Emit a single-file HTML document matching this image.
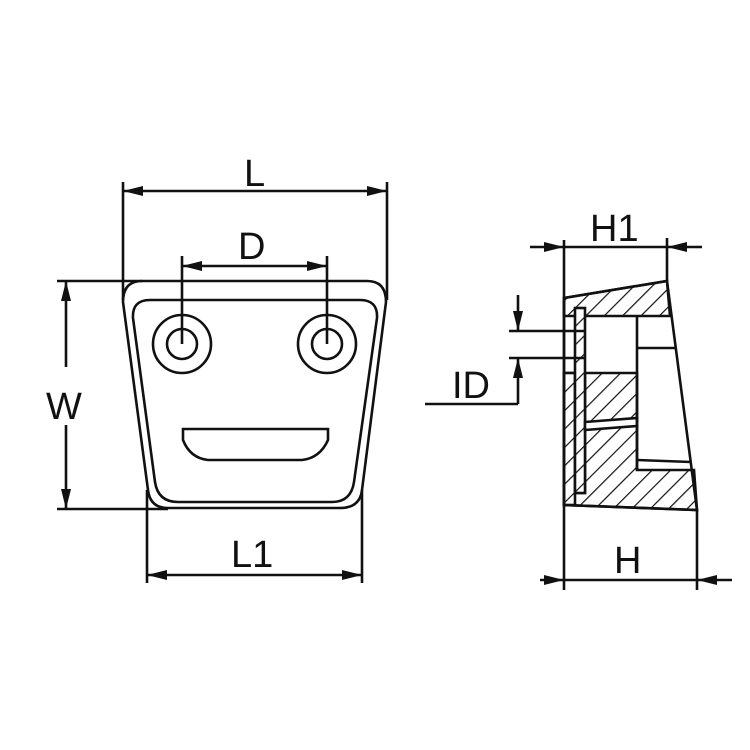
<!DOCTYPE html>
<html><head><style>
html,body{margin:0;padding:0;background:#fff;}
svg{display:block;}
text{font-family:"Liberation Sans",sans-serif;fill:#111;}
</style></head><body>
<svg width="750" height="750" viewBox="0 0 750 750" xmlns="http://www.w3.org/2000/svg">
<defs>
<pattern id="h" patternUnits="userSpaceOnUse" width="13" height="13" patternTransform="rotate(45)">
<rect width="13" height="13" fill="#fff"/>
<line x1="0" y1="0" x2="0" y2="13" stroke="#111" stroke-width="2.4"/>
</pattern>
<marker id="a" viewBox="0 0 20 10" refX="20" refY="5" markerWidth="20" markerHeight="10" markerUnits="userSpaceOnUse" orient="auto">
<path d="M0,0 L20,5 L0,10 Z" fill="#111"/>
</marker>
</defs>
<g stroke="#111" stroke-width="2.6" fill="none">
<path d="M142,281 L367,281 Q386,281 386,302 L362,490 Q360,508 340,508 L168,508 Q150,508 148,490 L123,302 Q123,281 142,281 Z"/>
<path d="M150,300 L360,300 Q378,300 377,318 L354,482 Q351,502 332,502 L178,502 Q158,502 155,482 L133,318 Q132,300 150,300 Z"/>
<circle cx="182" cy="344" r="29"/><circle cx="182" cy="344" r="15"/>
<circle cx="327" cy="344" r="29"/><circle cx="327" cy="344" r="15"/>
<path d="M183,429 L328,429 L328,440 Q320,458 302,460 L208,460 Q190,458 183,440 Z"/>
<line x1="123" y1="182" x2="123" y2="300"/>
<line x1="387" y1="182" x2="387" y2="300"/>
<line x1="144" y1="191" x2="123" y2="191" marker-end="url(#a)"/>
<line x1="144" y1="191" x2="387" y2="191" marker-end="url(#a)"/>
<line x1="182" y1="256" x2="182" y2="344"/>
<line x1="327" y1="256" x2="327" y2="344"/>
<line x1="250" y1="266" x2="182" y2="266" marker-end="url(#a)"/>
<line x1="250" y1="266" x2="327" y2="266" marker-end="url(#a)"/>
<line x1="57" y1="281" x2="142" y2="281"/>
<line x1="57" y1="509" x2="168" y2="509"/>
<line x1="66" y1="367" x2="66" y2="281" marker-end="url(#a)"/>
<line x1="66" y1="425" x2="66" y2="509" marker-end="url(#a)"/>
<line x1="147" y1="490" x2="147" y2="583"/>
<line x1="362" y1="490" x2="362" y2="583"/>
<line x1="250" y1="575" x2="147" y2="575" marker-end="url(#a)"/>
<line x1="250" y1="575" x2="362" y2="575" marker-end="url(#a)"/>
</g>
<g stroke="#111" stroke-width="2.6">
<path d="M564,298 L667,281 L670,316 L564,316 Z" fill="url(#h)"/>
<path d="M585,373 L637,373 L637,470 L694,470 L697,510 L564,505 L564,373 L575,373 L575,493 L585,493 Z" fill="url(#h)"/>
<rect x="564" y="373" width="11" height="132" fill="url(#h)"/>
<rect x="575" y="308" width="10" height="185" fill="url(#h)"/>
<path d="M585,422 L637,418 L637,426 L585,430 Z" fill="#fff"/>
<g fill="none">
<path d="M564,298 L667,281 L697,510 L564,505 Z"/>
<line x1="637" y1="316" x2="637" y2="470"/>
<line x1="637" y1="348" x2="676" y2="348"/>
<line x1="637" y1="460" x2="691" y2="462"/>
<line x1="564" y1="240" x2="564" y2="590"/>
<line x1="667" y1="238" x2="667" y2="281"/>
<line x1="697" y1="510" x2="697" y2="590"/>
<line x1="530" y1="247" x2="564" y2="247" marker-end="url(#a)"/>
<line x1="564" y1="247" x2="667" y2="247"/>
<line x1="702" y1="247" x2="667" y2="247" marker-end="url(#a)"/>
<line x1="540" y1="580" x2="564" y2="580" marker-end="url(#a)"/>
<line x1="564" y1="580" x2="697" y2="580"/>
<line x1="732" y1="580" x2="697" y2="580" marker-end="url(#a)"/>
<line x1="509" y1="331" x2="585" y2="331"/>
<line x1="509" y1="358" x2="585" y2="358"/>
<line x1="518" y1="295" x2="518" y2="331" marker-end="url(#a)"/>
<line x1="518" y1="404" x2="518" y2="358" marker-end="url(#a)"/>
<polyline points="425,404 518,404"/>
</g>
</g>
<g font-size="38">
<text x="244" y="186">L</text>
<text x="238" y="259">D</text>
<text x="46" y="419">W</text>
<text x="231" y="567">L1</text>
<text x="590" y="241">H1</text>
<text x="452" y="398">ID</text>
<text x="614" y="573">H</text>
</g>
</svg>
</body></html>
